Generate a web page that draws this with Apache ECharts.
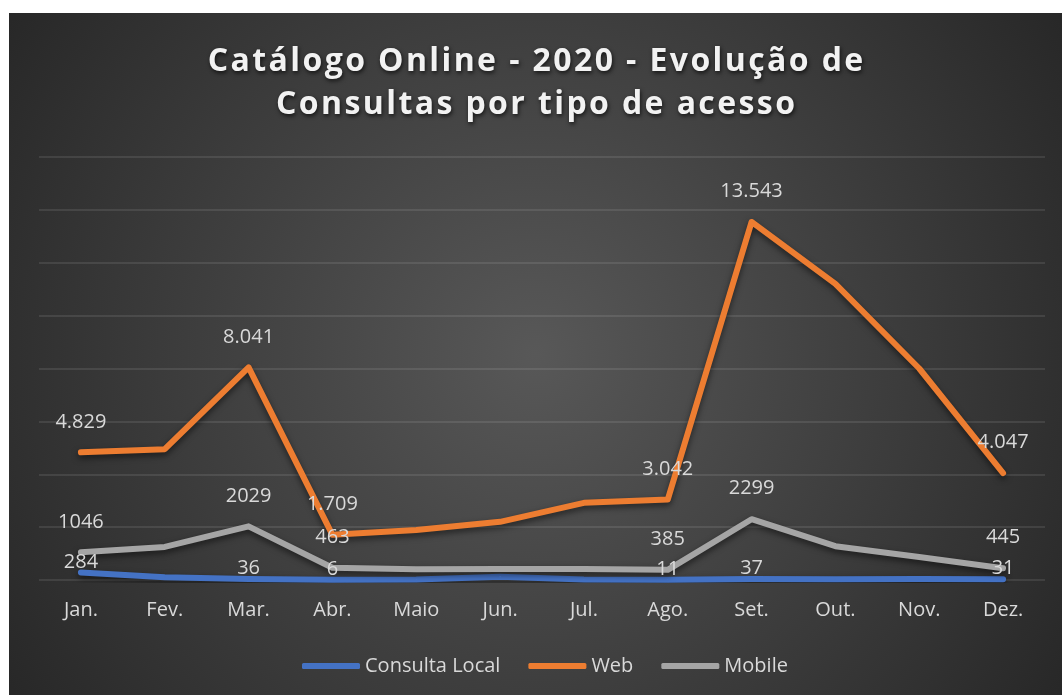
<!DOCTYPE html>
<html>
<head>
<meta charset="utf-8">
<title>Catálogo Online - 2020</title>
<script src="https://cdn.jsdelivr.net/npm/echarts@6/dist/echarts.min.js"></script>
<style>
  html, body { margin: 0; padding: 0; background: #ffffff; }
  #chart { position: absolute; left: 9px; top: 13px; width: 1053px; height: 682px; }
</style>
</head>
<body>
<div id="chart"></div>
<script>
// meses
var months = ['Jan.', 'Fev.', 'Mar.', 'Abr.', 'Maio', 'Jun.', 'Jul.', 'Ago.', 'Set.', 'Out.', 'Nov.', 'Dez.'];
var seriesNames = ['Consulta Local', 'Web', 'Mobile'];
var titleLines = ['Catálogo Online - 2020 - Evolução de', 'Consultas por tipo de acesso'];

// valores (os sem rótulo são estimados)
var consultaLocal = [284, 100, 36, 6, 15, 120, 20, 11, 37, 30, 35, 31];
var web = [4829, 4950, 8041, 1709, 1890, 2200, 2920, 3042, 13543, 11200, 8000, 4047];
var mobile = [1046, 1250, 2029, 463, 410, 420, 420, 385, 2299, 1280, 870, 445];

// pontos que tem rótulo
var labelIdx = [0, 2, 3, 7, 8, 11];

var colors = ['#4472C4', '#ED7D31', '#A5A5A5'];

function fmtDot(v) {
    return String(v).replace(/\B(?=(\d{3})+(?!\d))/g, '.');
}

function makeData(arr) {
    return arr.map(function (v, i) {
        if (labelIdx.indexOf(i) >= 0) return v;
        return { value: v, label: { show: false } };
    });
}

// titulo com espaçamento entre letras (um token rich por caractere)
function spaced(line) {
    return line.split('').map(function (c) { return '{s|' + c + '}'; }).join('');
}

var chart = echarts.init(document.getElementById('chart'));

var labelBase = {
    show: true,
    position: 'top',
    color: '#d9d9d9',
    fontSize: 20,
    fontFamily: 'Open Sans'
};

function lineSeries(name, arr, color, dist, fmt) {
    return {
        name: name,
        type: 'line',
        data: makeData(arr),
        symbol: 'circle',
        symbolSize: 1,
        showSymbol: true,
        itemStyle: { color: color },
        lineStyle: {
            color: color,
            width: 6,
            cap: 'round',
            join: 'round',
            shadowColor: 'rgba(0,0,0,0.55)',
            shadowBlur: 6,
            shadowOffsetY: 3
        },
        label: Object.assign({}, labelBase, {
            distance: dist,
            formatter: function (p) { return fmt(p.value); }
        }),
        emphasis: { disabled: true },
        animation: false
    };
}

var titleStyle = {
    color: '#f2f2f2',
    fontFamily: 'Open Sans',
    fontWeight: 'bold',
    fontSize: 32,
    lineHeight: 43,
    padding: [0, 1.2, 0, 1.2],
    textShadowColor: 'rgba(0,0,0,0.7)',
    textShadowBlur: 4,
    textShadowOffsetX: 1,
    textShadowOffsetY: 2
};

chart.setOption({
    backgroundColor: {
        type: 'radial',
        x: 0.5, y: 0.5, r: 0.95,
        colorStops: [
            { offset: 0, color: '#585858' },
            { offset: 1, color: '#262626' }
        ]
    },
    title: {
        text: titleLines.map(spaced).join('\n'),
        left: 'center',
        top: 27,
        padding: [0, 0, 0, 24],
        textStyle: {
            color: '#f2f2f2',
            fontFamily: 'Open Sans',
            fontWeight: 'bold',
            fontSize: 32,
            lineHeight: 43,
            rich: { s: titleStyle }
        }
    },
    legend: {
        data: seriesNames,
        left: 288,
        top: 638,
        icon: 'roundRect',
        itemWidth: 58,
        itemHeight: 6,
        itemGap: 28,
        textStyle: { color: '#d9d9d9', fontSize: 20, fontFamily: 'Open Sans' }
    },
    grid: {
        left: 30,
        right: 17,
        top: 144,
        bottom: 115
    },
    xAxis: {
        type: 'category',
        data: months,
        boundaryGap: true,
        axisLine: { show: false },
        axisTick: { show: false },
        axisLabel: { color: '#d9d9d9', fontSize: 20, fontFamily: 'Open Sans', margin: 20 }
    },
    yAxis: {
        type: 'value',
        min: 0,
        max: 16000,
        interval: 2000,
        axisLabel: { show: false },
        axisLine: { show: false },
        axisTick: { show: false },
        splitLine: { lineStyle: { color: 'rgba(255,255,255,0.13)', width: 1.5 } }
    },
    series: [
        lineSeries(seriesNames[0], consultaLocal, colors[0], 0, function (v) { return v; }),
        lineSeries(seriesNames[1], web, colors[1], 20, fmtDot),
        lineSeries(seriesNames[2], mobile, colors[2], 20, function (v) { return v; })
    ]
});
</script>
</body>
</html>
